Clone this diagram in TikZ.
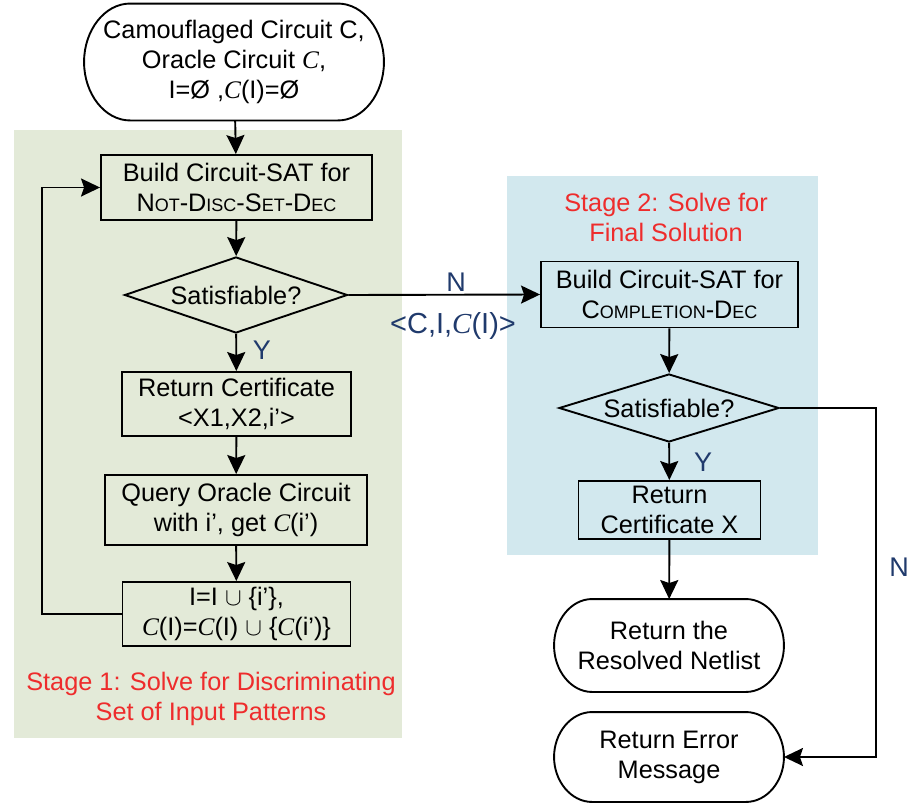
\documentclass[tikz,border=0pt]{standalone}
\usepackage{fontspec}
\setmainfont{Liberation Sans}
\newfontfamily\serifface{Liberation Serif}
\usetikzlibrary{shapes.geometric,arrows.meta}
\definecolor{stageonebg}{HTML}{E3EAD8}
\definecolor{stagetwobg}{HTML}{D2E8EE}
\definecolor{stagered}{HTML}{EE2C2C}
\definecolor{branchblue}{HTML}{203A6C}
% italic serif C for the oracle circuit
\newcommand\oc{{\serifface\itshape C}}
% faked small capitals
\newcommand\scx[1]{{\fontsize{18}{18}\selectfont #1}}
% outline of a terminal node with elliptical end caps: node, cap width, half height
\newcommand\termoutline[3]{%
  \draw ([xshift=#2]#1.north west) -- ([xshift=-#2]#1.north east)
    .. controls ([xshift={-0.4477*#2}]#1.north east) and ([yshift={0.5523*#3}]#1.east) .. (#1.east)
    .. controls ([yshift={-0.5523*#3}]#1.east) and ([xshift={-0.4477*#2}]#1.south east) .. ([xshift=-#2]#1.south east)
    -- ([xshift=#2]#1.south west)
    .. controls ([xshift={0.4477*#2}]#1.south west) and ([yshift={-0.5523*#3}]#1.west) .. (#1.west)
    .. controls ([yshift={0.5523*#3}]#1.west) and ([xshift={0.4477*#2}]#1.north west) .. ([xshift=#2]#1.north west)
    -- cycle;}
\begin{document}
\begin{tikzpicture}[x=1pt,y=-1pt,
  font=\fontsize{25.3}{30}\selectfont,
  line width=1.9pt,
  flow/.style={draw, line width=1.9pt, -{Stealth[length=19pt,width=18pt,inset=3pt]}},
  procbox/.style={draw, rectangle, inner sep=0pt, align=center},
  terminal/.style={rectangle, inner sep=0pt, align=center},
  decision/.style={draw, diamond, inner sep=0pt},
  stagelabel/.style={text=stagered, align=center, inner sep=0pt},
  branch/.style={text=branchblue, inner sep=0pt, font=\fontsize{27}{30}\selectfont}]
\useasboundingbox (0,0) rectangle (914,803);

% stage backgrounds
\fill[stageonebg] (14,130) rectangle (402,738);
\fill[stagetwobg] (507,176) rectangle (818,555);

% stage 1
\node[terminal, minimum width=298pt, minimum height=115pt] (start) at (234,62)
  {Camouflaged Circuit C,\\Oracle Circuit \oc,\\I=Ø ,\oc(I)=Ø};
\termoutline{start}{46pt}{57.5pt}
\node[procbox, minimum width=271pt, minimum height=65pt] (nds) at (236.5,187.5)
  {Build Circuit-SAT for\\N\scx{OT}-D\scx{ISC}-S\scx{ET}-D\scx{EC}};
\node[decision, minimum width=223pt, minimum height=76pt,
  label={[inner sep=0pt]center:Satisfiable?}] (sat1) at (236,295) {};
\node[procbox, minimum width=229pt, minimum height=64pt] (cert) at (236.5,404)
  {Return Certificate\\<X1,X2,i’>};
\node[procbox, minimum width=262pt, minimum height=70pt] (query) at (236,510)
  {Query Oracle Circuit\\with i’, get \oc(i’)};
\node[procbox, minimum width=228pt, minimum height=64pt] (upd) at (236.5,614)
  {I=I $\cup$ \{i’\},\\\oc(I)=\oc(I) $\cup$ \{\oc(i’)\}};
\node[stagelabel] (s1) at (211,699)
  {Stage 1: Solve for Discriminating\\Set of Input Patterns};

\draw[flow] (start) -- (nds);
\draw[flow] (nds) -- (sat1);
\draw[flow] (sat1) -- (cert);
\node[branch] (y1) at (262,350) {Y};
\draw[flow] (cert) -- (query);
\draw[flow] (query) -- (upd);
\coordinate (loopb) at (42,614);
\coordinate (loopt) at (42,187.5);
\draw[flow] (upd.west) -- (loopb) -- (loopt) -- (nds.west);

% stage 2
\node[stagelabel] (s2) at (666,217) {Stage 2: Solve for\\Final Solution};
\node[procbox, minimum width=257pt, minimum height=66pt] (comp) at (669.5,294.5)
  {Build Circuit-SAT for\\C\scx{OMPLETION}-D\scx{EC}};
\node[decision, minimum width=220pt, minimum height=68pt,
  label={[inner sep=0pt]center:Satisfiable?}] (sat2) at (669,408) {};
\node[procbox, minimum width=182pt, minimum height=58pt] (certx) at (669.5,510)
  {Return\\Certificate X};
\node[terminal, minimum width=228pt, minimum height=91pt] (netlist) at (669,645.5)
  {Return the\\Resolved Netlist};
\termoutline{netlist}{38pt}{45.5pt}
\node[terminal, minimum width=228pt, minimum height=88pt] (err) at (669,757)
  {Return Error\\Message};
\termoutline{err}{38pt}{44pt}

\draw[flow] (sat1.east) -- (comp.west);
\node[branch] (n1) at (456,282) {N};
\node[branch, font=\fontsize{29}{30}\selectfont] (tuple) at (453,326) {<C,I,\oc(I)>};
\draw[flow] (comp) -- (sat2);
\draw[flow] (sat2) -- (certx);
\node[branch] (y2) at (703,462) {Y};
\draw[flow] (certx) -- (netlist);
\coordinate (nt) at (876,408);
\coordinate (nb) at (876,757);
\draw[flow] (sat2.east) -- (nt) -- (nb) -- (err.east);
\node[branch] (n2) at (899,567) {N};
\end{tikzpicture}
\end{document}
